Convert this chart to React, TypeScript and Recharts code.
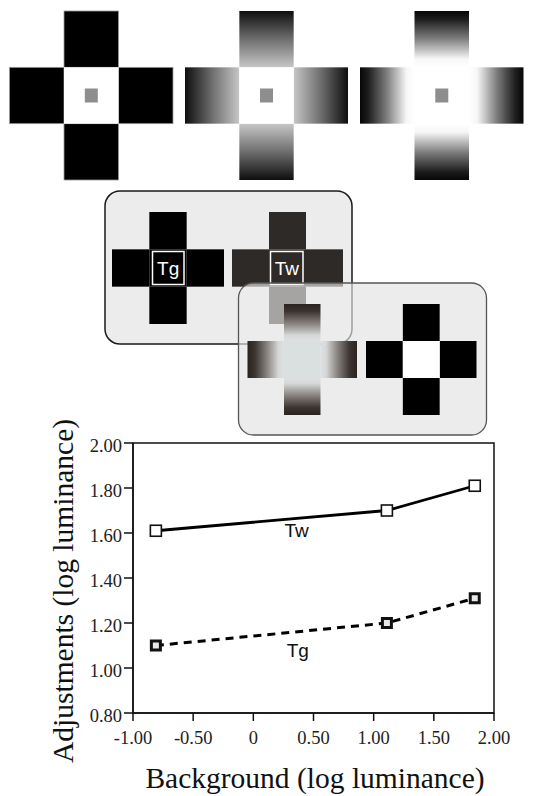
import { LineChart, Line, XAxis, YAxis, ReferenceArea, ReferenceDot, Label } from 'recharts';

// background luminance (x) and matched target luminance for the two targets
const background = [-0.81, 1.11, 1.84];
const twValues = [1.61, 1.7, 1.81];
const tgValues = [1.1, 1.2, 1.31];

const xTicks = [-1, -0.5, 0, 0.5, 1, 1.5, 2];
const yTicks = [0.8, 1.0, 1.2, 1.4, 1.6, 1.8, 2.0];

const seriesNames = ['Tw', 'Tg'];
const labelX = [0.36, 0.37];
const labelY = [1.612, 1.081];

const data = background.map((b, i) => ({ background: b, tw: twValues[i], tg: tgValues[i] }));

const SERIF = '"Liberation Serif", "Times New Roman", serif';
const SANS = '"Liberation Sans", Arial, sans-serif';

const fmt = (v: number) => (v === 0 ? '0' : v.toFixed(2));

const OpenSquare = (props: any) => {
  const { cx, cy, index } = props;
  return (
    <rect key={`tw-${index}`} x={cx - 5.5} y={cy - 5.5} width={11} height={11}
      fill="#fff" stroke="#111" strokeWidth={1.6} />
  );
};

const HeavySquare = (props: any) => {
  const { cx, cy, index } = props;
  return (
    <rect key={`tg-${index}`} x={cx - 4.5} y={cy - 4.5} width={9} height={9}
      fill="#e8e8e8" stroke="#111" strokeWidth={3} />
  );
};

// --- illustration helpers (stimulus drawings above the chart) ---
type CrossProps = {
  x: number; y: number; w: number; h: number;
  arm: (side: 't' | 'b' | 'l' | 'r') => string;
  center: string; edge?: string;
};

function Cross({ x, y, w, h, arm, center, edge }: CrossProps) {
  const aw = w / 3;
  const ah = h / 3;
  const s = edge ? { stroke: edge, strokeWidth: 0.8 } : {};
  return (
    <g>
      <rect x={x + aw} y={y} width={aw} height={ah} fill={arm('t')} {...s} />
      <rect x={x} y={y + ah} width={aw} height={ah} fill={arm('l')} {...s} />
      <rect x={x + 2 * aw} y={y + ah} width={aw} height={ah} fill={arm('r')} {...s} />
      <rect x={x + aw} y={y + 2 * ah} width={aw} height={ah} fill={arm('b')} {...s} />
      <rect x={x + aw} y={y + ah} width={aw} height={ah} fill={center} />
    </g>
  );
}

function Grad({ id, stops }: { id: string; stops: [number, string][] }) {
  const dirs: Record<string, [number, number, number, number]> = {
    t: [0, 0, 0, 1], b: [0, 1, 0, 0], l: [0, 0, 1, 0], r: [1, 0, 0, 0],
  };
  return (
    <>
      {Object.entries(dirs).map(([k, d]) => (
        <linearGradient key={k} id={`${id}-${k}`} x1={d[0]} y1={d[1]} x2={d[2]} y2={d[3]}>
          {stops.map(([o, c], i) => <stop key={i} offset={o} stopColor={c} />)}
        </linearGradient>
      ))}
    </>
  );
}

function Stimuli() {
  const g = (id: string) => (side: string) => `url(#${id}-${side})`;
  const solid = (c: string) => () => c;
  return (
    <svg width={542} height={440} style={{ position: 'absolute', left: 0, top: 0 }}>
      <defs>
        <Grad id="soft" stops={[[0, '#0e0e0e'], [0.5, '#6e6e6e'], [1, '#c6c6c6']]} />
        <Grad id="steep" stops={[[0, '#060606'], [0.15, '#1e1e1e'], [0.5, '#808080'], [0.85, '#f6f6f6'], [1, '#ffffff']]} />
        <Grad id="warm" stops={[[0, '#2a2320'], [0.2, '#3b3431'], [0.55, '#8c8782'], [0.85, '#d6d8d8'], [1, '#dde1e1']]} />
      </defs>

      {/* top row */}
      <Cross x={9.5} y={11} w={163.5} h={169} arm={solid('#000')} center="#fff" edge="#9a9a9a" />
      <Cross x={185} y={11} w={163} h={169} arm={g('soft')} center="#fff" />
      <Cross x={360} y={11} w={163.5} h={169} arm={g('steep')} center="#fff" />
      {[91.3, 266.5, 441.8].map((cx) => (
        <rect key={cx} x={cx - 6.5} y={88.5} width={13} height={14} fill="#8e8e8e" />
      ))}

      {/* panels */}
      <rect x={238.5} y={283} width={248} height={152} rx={15} fill="#ececec" />
      <rect x={105} y={191} width={247} height={153} rx={15} fill="#ececec" stroke="#1a1a1a" strokeWidth={1.5} />
      <Cross x={112} y={212} w={112} h={112} arm={solid('#000')} center="#000" />
      <Cross x={232} y={212} w={111} h={112} arm={solid('#2e2a28')} center="#2e2a28" />
      <rect x={152.5} y={251.5} width={31.5} height={33} fill="none" stroke="#fff" strokeWidth={1.5} />
      <rect x={270.5} y={251.5} width={32.5} height={33} fill="none" stroke="#fff" strokeWidth={1.5} />
      <text x={168.2} y={274.5} textAnchor="middle" fill="#fff" fontSize={19} fontFamily={SANS}>Tg</text>
      <text x={286.8} y={274.5} textAnchor="middle" fill="#fff" fontSize={19} fontFamily={SANS}>Tw</text>

      <rect x={238.5} y={283} width={248} height={152} rx={15} fill="#ececec" fillOpacity={0.63}
        stroke="#555" strokeWidth={1.3} />
      <Cross x={247.5} y={304} w={109.5} h={111} arm={g('warm')} center="#dadfdf" />
      <Cross x={366} y={304} w={110.5} h={111} arm={solid('#000')} center="#fff" />
    </svg>
  );
}

export default function App() {
  return (
    <div style={{ position: 'absolute', left: 0, top: 0, width: 542, height: 796, background: '#fff' }}>
      <Stimuli />
      <div style={{ position: 'absolute', left: 0, top: 420 }}>
        <LineChart width={542} height={376} data={data} margin={{ top: 23, right: 48, bottom: 0, left: 0 }}>
          <XAxis
            type="number"
            dataKey="background"
            domain={[-1, 2]}
            ticks={xTicks}
            interval={0}
            tickFormatter={fmt}
            height={83}
            tickSize={8}
            tickMargin={10}
            stroke="#111"
            strokeWidth={1.5}
            tick={{ fill: '#222', fontSize: 18.5, fontFamily: SERIF }}
          >
            <Label
              content={({ viewBox }: any) => (
                <text x={viewBox.x + viewBox.width / 2 + 1.5} y={viewBox.y + 75} textAnchor="middle"
                  fill="#111" fontSize={29.5} fontFamily={SERIF}>
                  Background (log luminance)
                </text>
              )}
            />
          </XAxis>
          <YAxis
            type="number"
            domain={[0.8, 2]}
            ticks={yTicks}
            interval={0}
            tickFormatter={fmt}
            width={133}
            tickSize={9}
            tickMargin={2}
            stroke="#111"
            strokeWidth={1.5}
            tick={{ fill: '#222', fontSize: 18.5, fontFamily: SERIF, dy: 2 }}
          >
            <Label
              content={({ viewBox }: any) => {
                const x = 73;
                const y = viewBox.y + viewBox.height / 2 + 13;
                return (
                  <text x={x} y={y} transform={`rotate(-90 ${x} ${y})`} textAnchor="middle"
                    fill="#111" fontSize={29.5} fontFamily={SERIF}>
                    Adjustments (log luminance)
                  </text>
                );
              }}
            />
          </YAxis>
          <ReferenceArea x1={-1} x2={2} y1={0.8} y2={2} fill="none" stroke="#111" strokeWidth={1.5} />
          <Line dataKey="tw" stroke="#000" strokeWidth={2.8} dot={OpenSquare} isAnimationActive={false} />
          <Line dataKey="tg" stroke="#000" strokeWidth={3} strokeDasharray="8 6" dot={HeavySquare} isAnimationActive={false} />
          {seriesNames.map((n, i) => (
            <ReferenceDot key={n} x={labelX[i]} y={labelY[i]} r={1} fill="none" stroke="none"
              label={{ value: n, position: 'center', fill: '#111', fontSize: 19, fontFamily: SANS }} />
          ))}
        </LineChart>
      </div>
    </div>
  );
}
